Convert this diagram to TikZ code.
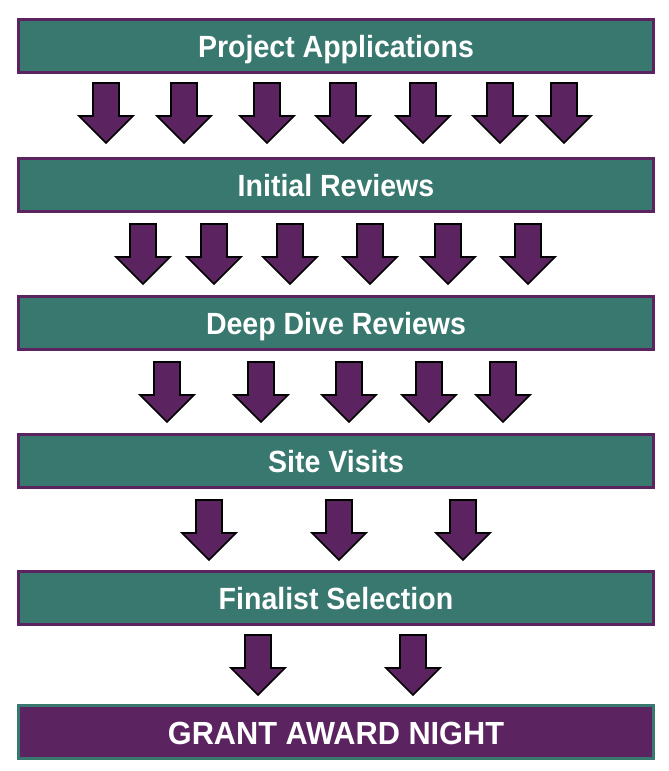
\documentclass[tikz,border=0pt]{standalone}
\usepackage{fontspec}
\setmainfont{Liberation Sans}
\newfontfamily\stagefont{Liberation Sans}[FakeStretch=0.93]
\newfontfamily\awardfont{Liberation Sans}[FakeStretch=0.96]

\definecolor{stageteal}{HTML}{38786F}
\definecolor{stagepurple}{HTML}{5B2460}

\tikzset{
  stage/.style = {draw = stagepurple, fill = stageteal, line width = 2pt,
    minimum width = 476pt, minimum height = 39.5pt, text = white,
    font = \stagefont\bfseries\fontsize{23}{27}\selectfont, text height = 17.5pt, text depth = 0pt},
  finalstage/.style = {stage, draw = stageteal, fill = stagepurple,
    font = \awardfont\bfseries\fontsize{24}{28}\selectfont, text height = 18.5pt},
  arrowbody/.style = {fill = stagepurple, draw = black, line width = 1.3pt},
  downarrow/.pic = {\draw[arrowbody] (-13,0) -- (13,0) -- (13,33) -- (27,33) -- (0,60)
    -- (-27,33) -- (-13,33) -- cycle;}
}

\begin{document}
\begin{tikzpicture}[x = 0.75pt, y = -0.75pt]
\useasboundingbox (0,0) rectangle (668,771);

% Create stages
\node[stage] (apps) at (336,46) {Project Applications};
\node[stage] (initial) at (336,185) {Initial Reviews};
\node[stage] (deep) at (336,323) {Deep Dive Reviews};
\node[stage] (visits) at (336,461) {Site Visits};
\node[stage] (finalist) at (336,598) {Finalist Selection};
\node[finalstage] (award) at (336,732) {GRANT AWARD NIGHT};

% Arrows between stages
\foreach \x in {106,184,267,343,423,500,564}
  \pic at (\x,83) {downarrow};
\foreach \x in {143,214,290,370,448,528}
  \pic at (\x,224) {downarrow};
\foreach \x in {167,261,349,429,503}
  \pic at (\x,362) {downarrow};
\foreach \x in {209,339,463}
  \pic at (\x,500) {downarrow};
\foreach \x in {258,413}
  \pic at (\x,635) {downarrow};

\end{tikzpicture}
\end{document}
